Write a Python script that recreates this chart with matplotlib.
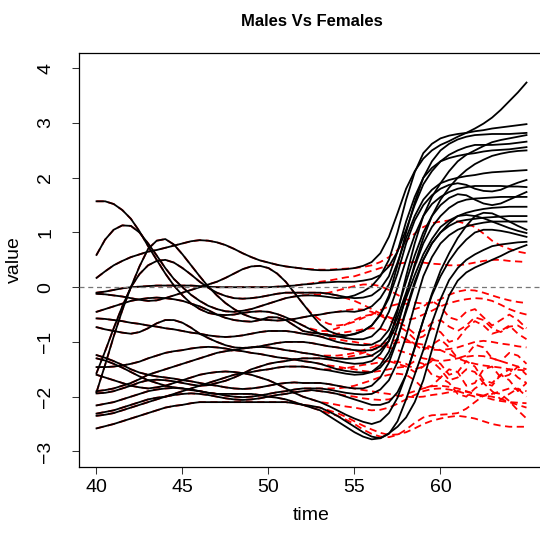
import matplotlib
matplotlib.use('Agg')
import matplotlib.pyplot as plt

# time grid (half-year steps): common part of every curve, then the split part
t_shared = [40 + 0.5 * i for i in range(25)]      # 40 .. 52
t_tail = [52.5 + 0.5 * i for i in range(26)]      # 52.5 .. 65

shared = [
    [1.57, 1.57, 1.52, 1.41, 1.25, 1.02, 0.75, 0.5, 0.25, 0.03, -0.15, -0.3, -0.4, -0.47, -0.5, -0.51, -0.5, -0.47, -0.45, -0.44, -0.45, -0.49, -0.55, -0.62, -0.7],
    [0.59, 0.87, 1.05, 1.13, 1.12, 1.0, 0.8, 0.58, 0.35, 0.15, 0.0, -0.14, -0.25, -0.34, -0.4, -0.44, -0.45, -0.43, -0.4, -0.35, -0.3, -0.25, -0.2, -0.17, -0.15],
    [0.17, 0.29, 0.4, 0.48, 0.55, 0.6, 0.65, 0.68, 0.72, 0.76, 0.8, 0.84, 0.86, 0.85, 0.82, 0.77, 0.7, 0.62, 0.55, 0.49, 0.45, 0.41, 0.38, 0.36, 0.34],
    [-0.1, -0.08, -0.05, -0.02, 0.0, 0.01, 0.02, 0.03, 0.03, 0.03, 0.03, 0.03, 0.02, 0.01, 0.0, 0.0, 0.0, 0.0, 0.0, 0.0, 0.0, 0.01, 0.02, 0.03, 0.05],
    [-1.92, -1.42, -0.9, -0.42, 0.0, 0.38, 0.7, 0.85, 0.88, 0.78, 0.6, 0.4, 0.2, 0.01, -0.15, -0.29, -0.4, -0.49, -0.55, -0.59, -0.6, -0.61, -0.6, -0.58, -0.55],
    [-1.57, -1.17, -0.75, -0.35, 0.0, 0.24, 0.4, 0.48, 0.5, 0.45, 0.35, 0.23, 0.1, -0.01, -0.1, -0.16, -0.2, -0.21, -0.2, -0.18, -0.15, -0.12, -0.1, -0.1, -0.1],
    [-0.45, -0.4, -0.35, -0.3, -0.25, -0.22, -0.2, -0.19, -0.2, -0.22, -0.25, -0.3, -0.35, -0.42, -0.5, -0.56, -0.6, -0.62, -0.63, -0.6, -0.55, -0.55, -0.6, -0.7, -0.8],
    [-0.57, -0.58, -0.6, -0.62, -0.65, -0.67, -0.7, -0.72, -0.75, -0.77, -0.8, -0.83, -0.85, -0.88, -0.9, -0.91, -0.9, -0.88, -0.85, -0.82, -0.8, -0.8, -0.8, -0.82, -0.85],
    [-0.73, -0.77, -0.8, -0.83, -0.85, -0.82, -0.75, -0.66, -0.6, -0.6, -0.65, -0.74, -0.85, -0.93, -1.0, -1.06, -1.1, -1.11, -1.1, -1.08, -1.05, -1.02, -1.0, -1.0, -1.0],
    [-0.12, -0.13, -0.15, -0.17, -0.2, -0.23, -0.25, -0.24, -0.2, -0.15, -0.1, -0.05, 0.0, 0.05, 0.1, 0.17, 0.25, 0.33, 0.38, 0.39, 0.35, 0.25, 0.1, -0.1, -0.3],
    [-1.24, -1.29, -1.35, -1.42, -1.5, -1.56, -1.6, -1.63, -1.65, -1.67, -1.7, -1.72, -1.75, -1.78, -1.8, -1.83, -1.85, -1.86, -1.85, -1.83, -1.8, -1.77, -1.75, -1.74, -1.75],
    [-1.3, -1.34, -1.4, -1.47, -1.55, -1.63, -1.7, -1.75, -1.8, -1.83, -1.85, -1.88, -1.9, -1.93, -1.95, -1.95, -1.95, -1.95, -1.95, -1.97, -2.0, -2.02, -2.05, -2.1, -2.15],
    [-1.46, -1.46, -1.45, -1.43, -1.4, -1.36, -1.3, -1.25, -1.2, -1.17, -1.15, -1.12, -1.1, -1.09, -1.1, -1.12, -1.15, -1.17, -1.2, -1.22, -1.25, -1.28, -1.3, -1.32, -1.35],
    [-1.6, -1.65, -1.7, -1.75, -1.8, -1.83, -1.85, -1.83, -1.8, -1.75, -1.7, -1.65, -1.6, -1.57, -1.55, -1.54, -1.55, -1.57, -1.6, -1.65, -1.7, -1.77, -1.85, -1.93, -2.0],
    [-1.9, -1.88, -1.85, -1.8, -1.75, -1.68, -1.6, -1.55, -1.5, -1.45, -1.4, -1.35, -1.3, -1.25, -1.2, -1.17, -1.15, -1.12, -1.1, -1.09, -1.1, -1.12, -1.15, -1.17, -1.2],
    [-1.94, -1.93, -1.9, -1.85, -1.8, -1.74, -1.7, -1.69, -1.7, -1.72, -1.75, -1.78, -1.8, -1.79, -1.75, -1.71, -1.65, -1.58, -1.5, -1.45, -1.4, -1.37, -1.35, -1.32, -1.3],
    [-2.16, -2.13, -2.1, -2.05, -2.0, -1.95, -1.9, -1.87, -1.85, -1.84, -1.85, -1.87, -1.9, -1.93, -1.95, -1.98, -2.0, -2.01, -2.0, -1.98, -1.95, -1.92, -1.9, -1.87, -1.85],
    [-2.31, -2.28, -2.25, -2.2, -2.15, -2.1, -2.05, -2.02, -2.0, -1.97, -1.95, -1.94, -1.95, -1.97, -2.0, -2.03, -2.05, -2.06, -2.05, -2.03, -2.0, -1.97, -1.95, -1.92, -1.9],
    [-2.35, -2.33, -2.3, -2.25, -2.2, -2.15, -2.1, -2.05, -2.0, -1.95, -1.9, -1.85, -1.8, -1.75, -1.7, -1.65, -1.6, -1.57, -1.55, -1.52, -1.5, -1.47, -1.45, -1.45, -1.45],
    [-2.58, -2.54, -2.5, -2.45, -2.4, -2.35, -2.3, -2.25, -2.2, -2.17, -2.15, -2.12, -2.1, -2.1, -2.1, -2.1, -2.1, -2.1, -2.1, -2.1, -2.1, -2.1, -2.1, -2.12, -2.15],
]

males = [
    [-0.78, -0.85, -0.89, -0.9, -0.89, -0.85, -0.8, -0.7, -0.5, -0.15, 0.4, 1.0, 1.55, 2.0, 2.3, 2.5, 2.62, 2.7, 2.75, 2.78, 2.79, 2.8, 2.8, 2.8, 2.81, 2.82],
    [-0.15, -0.16, -0.18, -0.2, -0.19, -0.15, -0.08, 0.02, 0.2, 0.5, 1.0, 1.6, 2.1, 2.45, 2.62, 2.72, 2.77, 2.8, 2.82, 2.85, 2.87, 2.9, 2.92, 2.94, 2.96, 2.98],
    [0.32, 0.31, 0.31, 0.32, 0.33, 0.35, 0.39, 0.46, 0.62, 0.92, 1.35, 1.8, 2.12, 2.35, 2.5, 2.6, 2.67, 2.75, 2.82, 2.9, 2.99, 3.1, 3.24, 3.4, 3.56, 3.74],
    [0.06, 0.08, 0.09, 0.1, 0.1, 0.1, 0.12, 0.15, 0.22, 0.38, 0.65, 1.05, 1.5, 1.88, 2.12, 2.3, 2.42, 2.5, 2.56, 2.6, 2.6, 2.6, 2.61, 2.62, 2.64, 2.66],
    [-0.52, -0.5, -0.47, -0.45, -0.44, -0.45, -0.42, -0.35, -0.2, 0.05, 0.45, 0.9, 1.3, 1.6, 1.78, 1.9, 1.96, 2.0, 2.03, 2.05, 2.08, 2.1, 2.11, 2.12, 2.13, 2.14],
    [-0.1, -0.1, -0.12, -0.15, -0.18, -0.2, -0.19, -0.15, -0.03, 0.2, 0.65, 1.2, 1.65, 2.0, 2.18, 2.3, 2.36, 2.4, 2.43, 2.45, 2.48, 2.5, 2.51, 2.52, 2.54, 2.56],
    [-0.83, -0.85, -0.87, -0.9, -0.93, -0.95, -0.95, -0.9, -0.75, -0.45, 0.0, 0.5, 0.95, 1.3, 1.52, 1.65, 1.74, 1.8, 1.83, 1.85, 1.85, 1.85, 1.85, 1.84, 1.84, 1.83],
    [-0.87, -0.9, -0.95, -1.0, -1.03, -1.05, -1.06, -1.05, -0.97, -0.78, -0.4, 0.1, 0.58, 1.0, 1.3, 1.5, 1.63, 1.7, 1.68, 1.6, 1.53, 1.5, 1.53, 1.6, 1.67, 1.74],
    [-1.02, -1.05, -1.08, -1.1, -1.13, -1.15, -1.16, -1.15, -1.08, -0.9, -0.55, -0.1, 0.38, 0.8, 1.1, 1.3, 1.45, 1.55, 1.6, 1.62, 1.63, 1.64, 1.65, 1.65, 1.65, 1.65],
    [-0.5, -0.68, -0.8, -0.86, -0.88, -0.86, -0.8, -0.7, -0.5, -0.2, 0.25, 0.8, 1.22, 1.5, 1.68, 1.8, 1.87, 1.9, 1.87, 1.8, 1.76, 1.75, 1.78, 1.85, 1.91, 1.96],
    [-1.75, -1.75, -1.77, -1.8, -1.83, -1.85, -1.85, -1.8, -1.65, -1.38, -0.95, -0.4, 0.1, 0.5, 0.8, 1.0, 1.17, 1.3, 1.36, 1.4, 1.43, 1.45, 1.46, 1.47, 1.47, 1.47],
    [-2.2, -2.25, -2.35, -2.45, -2.55, -2.65, -2.73, -2.78, -2.76, -2.67, -2.55, -2.38, -2.1, -1.7, -1.15, -0.6, -0.15, 0.12, 0.27, 0.36, 0.43, 0.5, 0.57, 0.65, 0.71, 0.77],
    [-1.37, -1.4, -1.45, -1.5, -1.53, -1.55, -1.56, -1.55, -1.47, -1.28, -0.92, -0.45, 0.05, 0.5, 0.8, 1.0, 1.12, 1.2, 1.23, 1.25, 1.27, 1.28, 1.29, 1.3, 1.3, 1.3],
    [-2.05, -2.1, -2.17, -2.25, -2.33, -2.4, -2.46, -2.5, -2.45, -2.3, -2.02, -1.6, -1.1, -0.6, -0.15, 0.2, 0.48, 0.7, 0.87, 1.0, 1.05, 1.05, 1.03, 1.0, 0.96, 0.92],
    [-1.22, -1.25, -1.28, -1.3, -1.31, -1.3, -1.28, -1.25, -1.15, -0.98, -0.65, -0.2, 0.22, 0.6, 0.88, 1.1, 1.22, 1.3, 1.32, 1.3, 1.26, 1.2, 1.14, 1.08, 1.03, 0.99],
    [-1.3, -1.3, -1.32, -1.35, -1.38, -1.4, -1.39, -1.35, -1.22, -0.98, -0.45, 0.2, 0.8, 1.3, 1.65, 1.9, 2.12, 2.3, 2.42, 2.5, 2.58, 2.65, 2.69, 2.72, 2.75, 2.78],
    [-1.85, -1.85, -1.87, -1.9, -1.93, -1.95, -1.96, -1.95, -1.87, -1.7, -1.37, -0.9, -0.33, 0.2, 0.55, 0.8, 0.95, 1.05, 1.11, 1.15, 1.18, 1.2, 1.2, 1.2, 1.2, 1.2],
    [-1.88, -1.9, -1.92, -1.95, -2.0, -2.05, -2.1, -2.15, -2.15, -2.1, -1.92, -1.6, -1.12, -0.6, -0.12, 0.3, 0.62, 0.9, 1.12, 1.3, 1.36, 1.35, 1.28, 1.2, 1.12, 1.05],
    [-1.47, -1.5, -1.52, -1.55, -1.58, -1.6, -1.59, -1.55, -1.42, -1.18, -0.72, -0.15, 0.42, 0.9, 1.3, 1.6, 1.82, 2.0, 2.14, 2.25, 2.33, 2.4, 2.44, 2.47, 2.49, 2.5],
    [-2.17, -2.2, -2.27, -2.35, -2.45, -2.55, -2.65, -2.73, -2.76, -2.68, -2.45, -2.05, -1.6, -1.15, -0.65, -0.22, 0.13, 0.35, 0.5, 0.6, 0.68, 0.75, 0.78, 0.8, 0.82, 0.83],
]

females = [
    [-0.76, -0.8, -0.8, -0.75, -0.68, -0.6, -0.53, -0.5, -0.5, -0.55, -0.63, -0.72, -0.85, -0.8, -0.65, -0.6, -0.72, -0.8, -0.7, -0.55, -0.6, -0.75, -0.82, -0.72, -0.7, -0.8],
    [-0.14, -0.13, -0.1, -0.06, -0.02, 0.02, 0.05, 0.05, 0.02, -0.05, -0.14, -0.22, -0.28, -0.3, -0.28, -0.22, -0.14, -0.08, -0.05, -0.06, -0.1, -0.15, -0.2, -0.24, -0.27, -0.29],
    [0.33, 0.32, 0.32, 0.33, 0.34, 0.35, 0.37, 0.4, 0.46, 0.55, 0.68, 0.85, 0.98, 1.1, 1.17, 1.2, 1.22, 1.2, 1.16, 1.1, 0.98, 0.85, 0.76, 0.7, 0.65, 0.62],
    [0.07, 0.1, 0.12, 0.15, 0.18, 0.2, 0.25, 0.3, 0.35, 0.4, 0.43, 0.45, 0.46, 0.45, 0.43, 0.42, 0.4, 0.4, 0.42, 0.45, 0.48, 0.5, 0.5, 0.48, 0.47, 0.46],
    [-0.52, -0.5, -0.47, -0.45, -0.42, -0.4, -0.41, -0.45, -0.52, -0.6, -0.7, -0.8, -0.95, -0.9, -0.75, -0.82, -1.0, -0.95, -0.75, -0.62, -0.7, -0.85, -0.8, -0.7, -0.85, -0.95],
    [-0.1, -0.1, -0.12, -0.15, -0.2, -0.25, -0.32, -0.4, -0.48, -0.55, -0.59, -0.6, -0.57, -0.5, -0.43, -0.35, -0.29, -0.25, -0.22, -0.2, -0.21, -0.25, -0.32, -0.4, -0.46, -0.5],
    [-0.83, -0.85, -0.86, -0.85, -0.82, -0.8, -0.77, -0.75, -0.76, -0.8, -0.87, -0.95, -1.03, -1.1, -1.14, -1.15, -1.13, -1.1, -1.05, -1.0, -0.98, -1.0, -1.03, -1.05, -1.08, -1.1],
    [-0.87, -0.9, -0.93, -0.95, -0.98, -1.0, -1.03, -1.05, -1.07, -1.1, -1.15, -1.2, -1.25, -1.3, -1.33, -1.35, -1.33, -1.3, -1.27, -1.25, -1.26, -1.3, -1.35, -1.4, -1.45, -1.5],
    [-1.02, -1.05, -1.08, -1.1, -1.12, -1.15, -1.2, -1.25, -1.3, -1.35, -1.4, -1.45, -1.55, -1.45, -1.3, -1.4, -1.6, -1.55, -1.35, -1.45, -1.7, -1.75, -1.6, -1.7, -1.9, -1.75],
    [-0.48, -0.6, -0.67, -0.7, -0.68, -0.63, -0.56, -0.5, -0.42, -0.35, -0.31, -0.3, -0.4, -0.35, -0.25, -0.35, -0.55, -0.6, -0.45, -0.4, -0.55, -0.7, -0.6, -0.5, -0.6, -0.75],
    [-1.75, -1.75, -1.77, -1.8, -1.83, -1.85, -1.88, -1.9, -1.93, -1.95, -1.98, -2.0, -2.01, -2.0, -1.97, -1.95, -1.92, -1.9, -1.91, -1.95, -2.0, -2.05, -2.08, -2.1, -2.11, -2.12],
    [-2.2, -2.25, -2.3, -2.35, -2.42, -2.5, -2.6, -2.68, -2.73, -2.74, -2.7, -2.6, -2.48, -2.38, -2.34, -2.33, -2.32, -2.3, -2.22, -2.1, -1.98, -1.92, -1.95, -2.08, -2.25, -2.4],
    [-1.37, -1.4, -1.43, -1.45, -1.48, -1.5, -1.53, -1.55, -1.53, -1.5, -1.47, -1.45, -1.35, -1.4, -1.6, -1.65, -1.5, -1.55, -1.8, -1.75, -1.5, -1.45, -1.65, -1.6, -1.45, -1.6],
    [-2.05, -2.1, -2.12, -2.15, -2.18, -2.2, -2.23, -2.25, -2.24, -2.2, -2.13, -2.05, -1.97, -1.9, -1.86, -1.85, -1.87, -1.9, -1.95, -2.0, -1.99, -1.95, -1.9, -1.85, -1.86, -1.9],
    [-1.22, -1.25, -1.25, -1.25, -1.23, -1.2, -1.15, -1.1, -1.05, -1.0, -0.96, -0.95, -1.05, -1.15, -1.05, -0.95, -1.1, -1.3, -1.25, -1.05, -1.1, -1.3, -1.35, -1.2, -1.25, -1.4],
    [-1.3, -1.3, -1.3, -1.3, -1.28, -1.25, -1.2, -1.15, -1.1, -1.05, -1.01, -1.0, -1.02, -1.05, -1.1, -1.15, -1.22, -1.3, -1.36, -1.4, -1.43, -1.45, -1.47, -1.5, -1.51, -1.52],
    [-1.85, -1.85, -1.85, -1.85, -1.83, -1.8, -1.75, -1.7, -1.64, -1.6, -1.58, -1.6, -1.7, -1.85, -1.8, -1.65, -1.75, -1.95, -2.0, -1.85, -1.75, -1.9, -2.05, -1.95, -1.85, -2.0],
    [-1.88, -1.9, -1.92, -1.95, -1.98, -2.0, -2.03, -2.05, -2.06, -2.05, -2.0, -1.95, -1.9, -1.85, -1.81, -1.8, -1.82, -1.85, -1.9, -1.95, -1.98, -2.0, -2.04, -2.1, -2.15, -2.2],
    [-1.47, -1.5, -1.5, -1.5, -1.48, -1.45, -1.42, -1.4, -1.37, -1.35, -1.36, -1.4, -1.5, -1.45, -1.35, -1.5, -1.7, -1.65, -1.5, -1.55, -1.75, -1.8, -1.6, -1.5, -1.65, -1.75],
    [-2.17, -2.2, -2.25, -2.3, -2.37, -2.45, -2.53, -2.6, -2.66, -2.7, -2.69, -2.65, -2.58, -2.5, -2.44, -2.4, -2.37, -2.35, -2.37, -2.4, -2.45, -2.5, -2.53, -2.55, -2.55, -2.55],
]

xticks = [40, 45, 50, 55, 60]
yticks = [-3, -2, -1, 0, 1, 2, 3, 4]

plt.rcParams['font.family'] = ['Liberation Sans', 'DejaVu Sans']

fig = plt.figure(figsize=(5.4, 5.36), dpi=100)
# right edge of the box lies just outside the picture, as in the reference
ax = fig.add_axes([79.3 / 540, 1 - 466.7 / 536, (543.7 - 79.3) / 540, (466.7 - 53) / 536])

# females first (red dashed), males drawn over them (black solid)
for base, tail in zip(shared, females):
    ax.plot(t_shared + t_tail, base + tail, color='red', lw=1.3,
            linestyle=(0, (4, 2.5)), zorder=2)
for base, tail in zip(shared, males):
    ax.plot(t_shared + t_tail, base + tail, color='black', lw=1.3, zorder=3)

ax.axhline(0, color='#777777', lw=0.9, linestyle=(0, (4, 3)), zorder=4)

ax.set_xlim(39, 66)
ax.set_ylim(-3.28, 4.28)
ax.set_xticks(xticks)
ax.set_yticks(yticks)
ax.set_yticklabels([str(v).replace('-', '\u2212') for v in yticks], rotation=90, va='center')
ax.tick_params(direction='out', length=5, width=0.75, labelsize=14, color='#333333')
ax.tick_params(axis='x', pad=4)
ax.tick_params(axis='y', pad=13)
for s in ax.spines.values():
    s.set_linewidth(0.9)

ax.set_xlabel('time', fontsize=14, labelpad=8)
ax.set_ylabel('value', fontsize=14, labelpad=10)
ax.set_title('Males Vs Females', fontsize=12, fontweight='bold', pad=19.5)

fig.savefig('out.png', dpi=100)
